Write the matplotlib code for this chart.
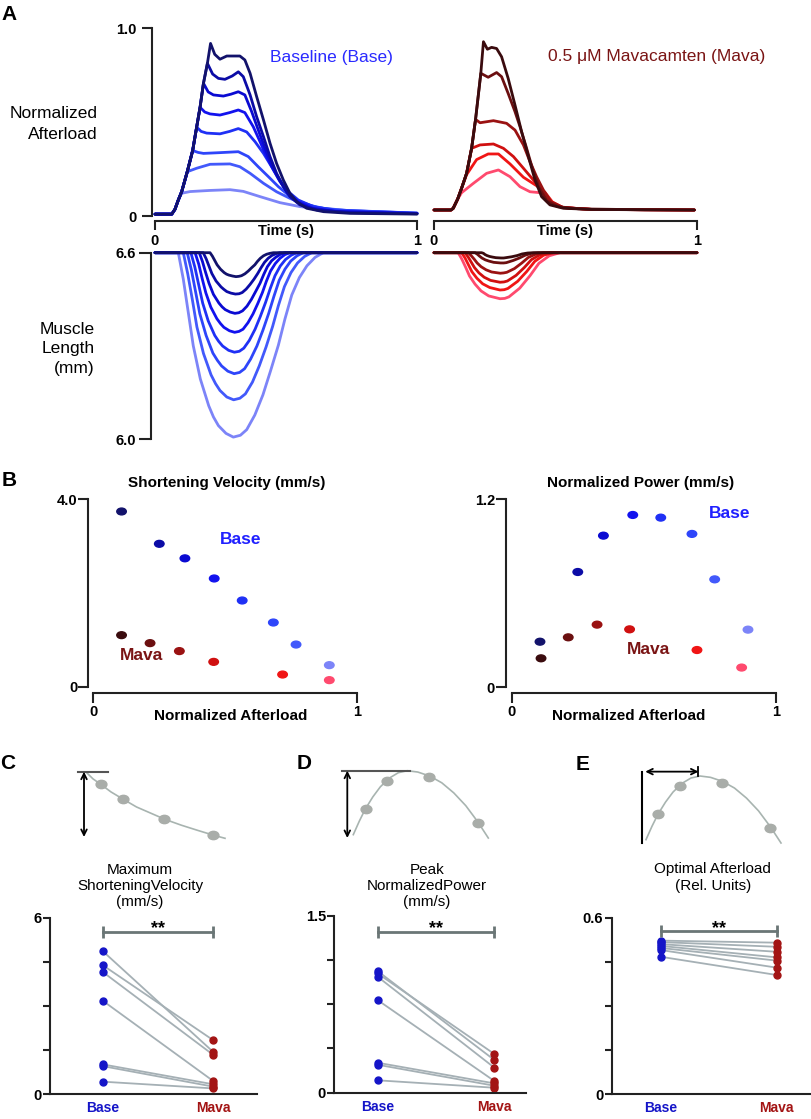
import matplotlib
matplotlib.use('Agg')
import matplotlib.pyplot as plt
from matplotlib.markers import MarkerStyle
from matplotlib.transforms import Affine2D

plt.rcParams['font.family'] = ['Liberation Sans', 'DejaVu Sans']

W, H = 812, 1119

# ---------------- Panel A: afterload traces (time in s, normalized afterload) ----------------
base_force_t = [
    [0, 0.064, 0.076, 0.089, 0.102, 0.124, 0.144, 0.159, 0.172, 0.185, 0.2, 0.212, 0.228, 0.248, 0.274, 0.324, 0.343, 0.363, 0.388, 0.414, 0.439, 0.464, 0.49, 0.515, 0.541, 0.579, 0.643, 0.744, 1.0],
    [0, 0.064, 0.076, 0.089, 0.102, 0.124, 0.144, 0.159, 0.172, 0.185, 0.2, 0.22, 0.242, 0.267, 0.295, 0.318, 0.337, 0.363, 0.388, 0.414, 0.439, 0.464, 0.49, 0.515, 0.553, 0.617, 0.744, 1.0],
    [0, 0.064, 0.076, 0.089, 0.102, 0.124, 0.144, 0.159, 0.172, 0.185, 0.203, 0.223, 0.261, 0.29, 0.318, 0.343, 0.369, 0.394, 0.42, 0.445, 0.471, 0.503, 0.541, 0.592, 0.693, 1.0],
    [0, 0.064, 0.076, 0.089, 0.102, 0.124, 0.144, 0.159, 0.172, 0.19, 0.21, 0.248, 0.285, 0.318, 0.343, 0.375, 0.401, 0.426, 0.452, 0.477, 0.509, 0.547, 0.604, 0.693, 1.0],
    [0, 0.064, 0.076, 0.089, 0.102, 0.124, 0.144, 0.159, 0.176, 0.197, 0.248, 0.285, 0.318, 0.35, 0.382, 0.414, 0.445, 0.477, 0.509, 0.547, 0.604, 0.693, 1.0],
    [0, 0.064, 0.076, 0.089, 0.102, 0.124, 0.144, 0.165, 0.185, 0.248, 0.318, 0.356, 0.394, 0.433, 0.471, 0.509, 0.553, 0.617, 0.693, 1.0],
    [0, 0.064, 0.076, 0.089, 0.102, 0.124, 0.159, 0.21, 0.286, 0.324, 0.363, 0.414, 0.464, 0.515, 0.566, 0.643, 0.744, 1.0],
    [0, 0.064, 0.076, 0.089, 0.102, 0.134, 0.21, 0.286, 0.337, 0.401, 0.477, 0.553, 0.643, 0.744, 1.0],
]
base_force_y = [
    [0.01, 0.01, 0.035, 0.085, 0.13, 0.24, 0.35, 0.473, 0.578, 0.706, 0.812, 0.918, 0.86, 0.834, 0.851, 0.851, 0.83, 0.759, 0.635, 0.511, 0.387, 0.28, 0.191, 0.121, 0.076, 0.041, 0.023, 0.014, 0.01],
    [0.01, 0.01, 0.035, 0.085, 0.13, 0.24, 0.35, 0.473, 0.578, 0.706, 0.812, 0.755, 0.732, 0.727, 0.745, 0.767, 0.741, 0.644, 0.528, 0.422, 0.316, 0.227, 0.156, 0.103, 0.059, 0.032, 0.018, 0.012],
    [0.01, 0.01, 0.035, 0.085, 0.13, 0.24, 0.35, 0.473, 0.578, 0.706, 0.66, 0.644, 0.638, 0.648, 0.661, 0.644, 0.555, 0.458, 0.36, 0.271, 0.2, 0.129, 0.076, 0.041, 0.023, 0.013],
    [0.01, 0.01, 0.035, 0.085, 0.13, 0.24, 0.35, 0.473, 0.578, 0.553, 0.543, 0.537, 0.55, 0.564, 0.55, 0.475, 0.395, 0.316, 0.245, 0.183, 0.121, 0.076, 0.041, 0.023, 0.013],
    [0.01, 0.01, 0.035, 0.085, 0.13, 0.24, 0.35, 0.473, 0.45, 0.441, 0.437, 0.45, 0.465, 0.447, 0.395, 0.333, 0.262, 0.191, 0.129, 0.085, 0.05, 0.028, 0.014],
    [0.01, 0.01, 0.035, 0.085, 0.13, 0.24, 0.348, 0.338, 0.333, 0.337, 0.342, 0.316, 0.262, 0.209, 0.156, 0.112, 0.076, 0.046, 0.032, 0.015],
    [0.01, 0.01, 0.035, 0.085, 0.13, 0.236, 0.254, 0.275, 0.277, 0.262, 0.227, 0.174, 0.129, 0.094, 0.064, 0.041, 0.028, 0.015],
    [0.01, 0.01, 0.035, 0.085, 0.121, 0.13, 0.136, 0.14, 0.131, 0.103, 0.071, 0.05, 0.036, 0.028, 0.016],
]
mava_force_t = [
    [0, 0.065, 0.073, 0.09, 0.105, 0.124, 0.143, 0.158, 0.178, 0.188, 0.203, 0.219, 0.238, 0.257, 0.282, 0.308, 0.333, 0.359, 0.384, 0.409, 0.441, 0.492, 0.6, 0.8, 0.99],
    [0, 0.065, 0.073, 0.09, 0.105, 0.124, 0.143, 0.158, 0.178, 0.206, 0.238, 0.257, 0.282, 0.308, 0.327, 0.35, 0.375, 0.4, 0.43, 0.47, 0.55, 0.8, 0.99],
    [0, 0.065, 0.073, 0.09, 0.105, 0.124, 0.143, 0.158, 0.175, 0.226, 0.276, 0.308, 0.34, 0.365, 0.39, 0.416, 0.445, 0.49, 0.6, 0.99],
    [0, 0.065, 0.073, 0.09, 0.105, 0.124, 0.143, 0.175, 0.226, 0.264, 0.302, 0.34, 0.378, 0.409, 0.445, 0.49, 0.6, 0.99],
    [0, 0.065, 0.073, 0.09, 0.105, 0.124, 0.162, 0.206, 0.245, 0.289, 0.34, 0.39, 0.422, 0.45, 0.49, 0.6, 0.99],
    [0, 0.065, 0.073, 0.09, 0.105, 0.15, 0.2, 0.245, 0.289, 0.327, 0.365, 0.403, 0.429, 0.454, 0.49, 0.6, 0.99],
]
mava_force_y = [
    [0.032, 0.032, 0.041, 0.09, 0.148, 0.227, 0.36, 0.514, 0.759, 0.927, 0.887, 0.897, 0.891, 0.847, 0.732, 0.59, 0.449, 0.316, 0.191, 0.103, 0.059, 0.041, 0.035, 0.033, 0.032],
    [0.032, 0.032, 0.041, 0.09, 0.148, 0.227, 0.36, 0.514, 0.759, 0.738, 0.763, 0.741, 0.652, 0.555, 0.475, 0.37, 0.25, 0.15, 0.08, 0.05, 0.038, 0.033, 0.032],
    [0.032, 0.032, 0.041, 0.09, 0.148, 0.227, 0.36, 0.514, 0.496, 0.507, 0.493, 0.457, 0.378, 0.289, 0.209, 0.138, 0.075, 0.045, 0.035, 0.032],
    [0.032, 0.032, 0.041, 0.09, 0.148, 0.227, 0.36, 0.378, 0.383, 0.36, 0.316, 0.254, 0.191, 0.138, 0.075, 0.045, 0.035, 0.032],
    [0.032, 0.032, 0.041, 0.09, 0.148, 0.22, 0.30, 0.33, 0.33, 0.277, 0.206, 0.161, 0.126, 0.075, 0.045, 0.035, 0.032],
    [0.032, 0.032, 0.041, 0.09, 0.124, 0.174, 0.227, 0.245, 0.209, 0.156, 0.129, 0.124, 0.094, 0.067, 0.045, 0.035, 0.032],
]

# ---------------- Panel A: muscle shortening from 6.6 mm rest length ----------------
rest_length = 6.6
base_len_t = [
    [0, 0.210, 0.219, 0.228, 0.237, 0.250, 0.264, 0.273, 0.282, 0.296, 0.309, 0.320, 0.330, 0.343, 0.356, 0.368, 0.381, 0.391, 0.402, 0.414, 0.426, 0.439, 0.452, 1.0],
    [0, 0.184, 0.195, 0.206, 0.217, 0.233, 0.252, 0.263, 0.274, 0.290, 0.307, 0.321, 0.333, 0.348, 0.363, 0.378, 0.392, 0.405, 0.418, 0.432, 0.446, 0.462, 0.477, 1.0],
    [0, 0.169, 0.181, 0.193, 0.206, 0.223, 0.244, 0.256, 0.268, 0.287, 0.305, 0.320, 0.334, 0.351, 0.368, 0.384, 0.401, 0.415, 0.429, 0.445, 0.462, 0.479, 0.496, 1.0],
    [0, 0.153, 0.167, 0.180, 0.194, 0.213, 0.236, 0.250, 0.263, 0.284, 0.304, 0.321, 0.336, 0.355, 0.374, 0.392, 0.410, 0.425, 0.441, 0.459, 0.477, 0.496, 0.515, 1.0],
    [0, 0.137, 0.152, 0.167, 0.182, 0.203, 0.228, 0.243, 0.258, 0.281, 0.303, 0.322, 0.339, 0.360, 0.382, 0.402, 0.422, 0.440, 0.458, 0.478, 0.498, 0.520, 0.541, 1.0],
    [0, 0.123, 0.139, 0.155, 0.171, 0.195, 0.221, 0.238, 0.254, 0.278, 0.302, 0.323, 0.342, 0.365, 0.389, 0.412, 0.434, 0.454, 0.474, 0.496, 0.518, 0.542, 0.566, 1.0],
    [0, 0.108, 0.125, 0.143, 0.160, 0.185, 0.214, 0.231, 0.248, 0.274, 0.300, 0.324, 0.345, 0.372, 0.398, 0.424, 0.449, 0.471, 0.494, 0.519, 0.544, 0.571, 0.598, 1.0],
    [0, 0.089, 0.108, 0.127, 0.146, 0.173, 0.205, 0.223, 0.242, 0.271, 0.299, 0.326, 0.350, 0.381, 0.412, 0.441, 0.471, 0.496, 0.522, 0.551, 0.580, 0.611, 0.642, 1.0],
]
base_short = [
    [0, 0, 0.011, 0.025, 0.039, 0.053, 0.064, 0.069, 0.072, 0.075, 0.077, 0.076, 0.074, 0.068, 0.059, 0.049, 0.039, 0.028, 0.018, 0.010, 0.005, 0.002, 0, 0],
    [0, 0, 0.019, 0.043, 0.067, 0.091, 0.110, 0.118, 0.125, 0.130, 0.133, 0.132, 0.128, 0.117, 0.102, 0.085, 0.067, 0.048, 0.031, 0.018, 0.009, 0.003, 0, 0],
    [0, 0, 0.028, 0.063, 0.098, 0.134, 0.162, 0.174, 0.183, 0.191, 0.195, 0.193, 0.187, 0.172, 0.150, 0.125, 0.098, 0.070, 0.045, 0.026, 0.014, 0.005, 0, 0],
    [0, 0, 0.037, 0.083, 0.129, 0.175, 0.212, 0.228, 0.240, 0.251, 0.256, 0.253, 0.246, 0.225, 0.197, 0.164, 0.128, 0.092, 0.059, 0.035, 0.018, 0.006, 0, 0],
    [0, 0, 0.046, 0.104, 0.162, 0.219, 0.266, 0.285, 0.300, 0.314, 0.320, 0.317, 0.307, 0.282, 0.246, 0.205, 0.160, 0.115, 0.074, 0.043, 0.022, 0.008, 0, 0],
    [0, 0, 0.056, 0.126, 0.196, 0.266, 0.323, 0.346, 0.364, 0.381, 0.389, 0.385, 0.373, 0.342, 0.300, 0.249, 0.195, 0.140, 0.089, 0.053, 0.027, 0.010, 0, 0],
    [0, 0, 0.068, 0.153, 0.239, 0.324, 0.393, 0.421, 0.443, 0.464, 0.473, 0.468, 0.454, 0.416, 0.364, 0.303, 0.237, 0.170, 0.109, 0.064, 0.033, 0.012, 0, 0],
    [0, 0, 0.085, 0.192, 0.299, 0.406, 0.492, 0.528, 0.556, 0.581, 0.593, 0.587, 0.569, 0.522, 0.457, 0.380, 0.297, 0.213, 0.136, 0.080, 0.042, 0.015, 0, 0],
]
mava_len_t = [
    [0, 0.181, 0.188, 0.194, 0.201, 0.211, 0.222, 0.235, 0.255, 0.265, 0.273, 0.296, 0.317, 0.335, 0.356, 0.378, 1.0],
    [0, 0.156, 0.165, 0.173, 0.182, 0.195, 0.209, 0.227, 0.253, 0.265, 0.275, 0.301, 0.325, 0.347, 0.371, 0.397, 1.0],
    [0, 0.131, 0.142, 0.153, 0.164, 0.179, 0.198, 0.219, 0.252, 0.265, 0.277, 0.306, 0.334, 0.359, 0.386, 0.416, 1.0],
    [0, 0.118, 0.130, 0.142, 0.154, 0.171, 0.191, 0.215, 0.251, 0.266, 0.279, 0.312, 0.343, 0.371, 0.402, 0.435, 1.0],
    [0, 0.105, 0.118, 0.131, 0.144, 0.163, 0.185, 0.212, 0.251, 0.267, 0.281, 0.318, 0.353, 0.383, 0.417, 0.454, 1.0],
    [0, 0.092, 0.106, 0.121, 0.135, 0.156, 0.179, 0.208, 0.251, 0.269, 0.285, 0.326, 0.365, 0.399, 0.438, 0.479, 1.0],
]
mava_short = [
    [0, 0, 0.002, 0.006, 0.009, 0.012, 0.014, 0.016, 0.017, 0.017, 0.016, 0.013, 0.009, 0.004, 0.001, 0, 0],
    [0, 0, 0.005, 0.011, 0.017, 0.023, 0.027, 0.031, 0.033, 0.033, 0.032, 0.025, 0.017, 0.008, 0.002, 0, 0],
    [0, 0, 0.010, 0.021, 0.033, 0.045, 0.055, 0.062, 0.066, 0.065, 0.063, 0.051, 0.033, 0.015, 0.005, 0, 0],
    [0, 0, 0.014, 0.031, 0.048, 0.065, 0.079, 0.089, 0.095, 0.094, 0.091, 0.073, 0.048, 0.022, 0.007, 0, 0],
    [0, 0, 0.017, 0.039, 0.061, 0.082, 0.100, 0.112, 0.120, 0.119, 0.115, 0.092, 0.060, 0.028, 0.008, 0, 0],
    [0, 0, 0.021, 0.048, 0.075, 0.101, 0.123, 0.139, 0.148, 0.147, 0.142, 0.114, 0.074, 0.034, 0.010, 0, 0],
]

# ---------------- Panel B ----------------
afterload_base = [0.107, 0.25, 0.347, 0.458, 0.564, 0.682, 0.768, 0.894]
velocity_base = [3.74, 3.05, 2.74, 2.31, 1.84, 1.37, 0.90, 0.46]
power_base = [0.291, 0.736, 0.968, 1.10, 1.083, 0.979, 0.689, 0.368]
afterload_mava_vel = [0.107, 0.215, 0.326, 0.456, 0.717, 0.894]
velocity_mava = [1.10, 0.93, 0.76, 0.53, 0.26, 0.14]
afterload_mava_pow = [0.111, 0.214, 0.323, 0.446, 0.701, 0.870]
power_mava = [0.185, 0.319, 0.40, 0.37, 0.238, 0.126]

# ---------------- Panels C-E (paired, one line per muscle) ----------------
groups = ['Base', 'Mava']
vmax_base = [4.87, 4.39, 4.16, 3.18, 1.01, 0.95, 0.42]
vmax_mava = [1.43, 1.83, 1.33, 0.44, 0.33, 0.25, 0.19]
ppeak_base = [1.031, 1.011, 0.983, 0.785, 0.254, 0.237, 0.105]
ppeak_mava = [0.277, 0.328, 0.212, 0.099, 0.079, 0.059, 0.042]
optload_base = [0.522, 0.517, 0.510, 0.504, 0.497, 0.490, 0.467]
optload_mava = [0.515, 0.501, 0.484, 0.465, 0.454, 0.430, 0.405]

# schematic insets (relative units)
sketch_vel_x = [0.02, 0.06, 0.11, 0.18, 0.26, 0.35, 0.45, 0.54, 0.65, 0.76, 0.86, 0.94]
sketch_vel_y = [0.98, 0.89, 0.81, 0.69, 0.58, 0.46, 0.36, 0.27, 0.18, 0.10, 0.03, -0.02]
sketch_vel_dots_x = [0.113, 0.258, 0.535, 0.862]
sketch_vel_dots_y = [0.81, 0.58, 0.27, 0.03]
sketch_pow_x = [0.04, 0.08, 0.12, 0.17, 0.22, 0.28, 0.34, 0.40, 0.47, 0.55, 0.63, 0.71, 0.79, 0.87, 0.94]
sketch_pow_y = [0.05, 0.25, 0.43, 0.61, 0.76, 0.89, 0.97, 1.0, 0.98, 0.92, 0.82, 0.67, 0.48, 0.24, 0.0]
sketch_pow_dots_x = [0.123, 0.267, 0.547, 0.869]
sketch_pow_dots_y = [0.43, 0.85, 0.90, 0.23]

blues = ['#12126b', '#0b0ba6', '#0a0ad2', '#1212ee', '#1f30f5', '#2e45fa', '#4259fb', '#7c84f8']
reds = ['#3a0b0e', '#6b0f10', '#9a1212', '#d01010', '#f01515', '#ff4a6e']
AX = '#222222'
PAIR_BLUE = '#1515c8'
PAIR_RED = '#a31414'

fig = plt.figure(figsize=(W / 100, H / 100), dpi=100)


def px_axes(left, top, right, bottom):
    ax = fig.add_axes([left / W, 1 - bottom / H, (right - left) / W, (bottom - top) / H])
    ax.patch.set_alpha(0)
    for s in ax.spines.values():
        s.set_linewidth(1.5)
        s.set_color(AX)
    ax.spines['top'].set_visible(False)
    ax.spines['right'].set_visible(False)
    ax.tick_params(width=1.5, color=AX, labelsize=10.5)
    return ax


def ftext(x, y, s, **kw):
    fig.text(x / W, 1 - y / H, s, **kw)


def trace(ax, t, y, c):
    ax.plot(t, y, color=c, lw=2, clip_on=False, solid_capstyle='round', solid_joinstyle='round')


bold = dict(fontweight='bold', fontsize=10.5)
oval = MarkerStyle('o', transform=Affine2D().scale(1.4, 1.0))

# ---- A: afterload, baseline
ax = px_axes(155, 28, 417, 216)
for t, y, c in reversed(list(zip(base_force_t, base_force_y, blues))):
    trace(ax, t, y, c)
ax.set_xlim(0, 1)
ax.set_ylim(0, 1)
ax.spines['left'].set_position(('outward', 2.2))
ax.spines['bottom'].set_position(('outward', 3.6))
ax.set_yticks([0, 1], ['0', '1.0'], **bold)
ax.set_xticks([0, 1], ['0', '1'], **bold)
ax.tick_params(axis='y', length=7, pad=4)
ax.tick_params(axis='x', length=6.5, pad=3)
ftext(286, 231, 'Time (s)', ha='center', va='center', **bold)

# ---- A: afterload, mavacamten
ax = px_axes(434, 28, 697, 216)
for t, y, c in reversed(list(zip(mava_force_t, mava_force_y, reds))):
    trace(ax, t, y, c)
ax.set_xlim(0, 1)
ax.set_ylim(0, 1)
ax.spines['left'].set_visible(False)
ax.spines['bottom'].set_position(('outward', 3.6))
ax.set_yticks([])
ax.set_xticks([0, 1], ['0', '1'], **bold)
ax.tick_params(axis='x', length=6.5, pad=3)
ftext(565.5, 231, 'Time (s)', ha='center', va='center', **bold)

# ---- A: muscle length
ax = px_axes(155, 252.7, 417, 439.3)
for t, d, c in reversed(list(zip(base_len_t, base_short, blues))):
    trace(ax, t, [rest_length - v for v in d], c)
ax.set_xlim(0, 1)
ax.set_ylim(6.0, 6.6)
ax.spines['bottom'].set_visible(False)
ax.spines['left'].set_position(('outward', 2.9))
ax.set_xticks([])
ax.set_yticks([6.0, 6.6], ['6.0', '6.6'], **bold)
ax.tick_params(axis='y', length=9, pad=2)

ax = px_axes(434, 252.7, 697, 439.3)
for t, d, c in reversed(list(zip(mava_len_t, mava_short, reds))):
    trace(ax, t, [rest_length - v for v in d], c)
ax.set_xlim(0, 1)
ax.set_ylim(6.0, 6.6)
ax.axis('off')

ftext(1, 14.5, 'A', ha='left', va='center', fontsize=15, fontweight='bold')
ftext(97.7, 124, 'Normalized\nAfterload', ha='right', va='center', fontsize=12.5, linespacing=1.45)
ftext(95, 349, 'Muscle\nLength\n(mm)', ha='right', va='center', fontsize=12.5, linespacing=1.38)
ftext(331.7, 57.5, 'Baseline (Base)', ha='center', va='center', fontsize=12.5, color='#2a2aff')
ftext(656.7, 57, '0.5 \u03bcM Mavacamten (Mava)', ha='center', va='center', fontsize=12.5, color='#7a1414')

# ---- B: shortening velocity
ax = px_axes(93.3, 499.3, 357.3, 686.7)
ax.scatter(afterload_base, velocity_base, c=blues, marker=oval, s=24, clip_on=False, zorder=3)
ax.scatter(afterload_mava_vel, velocity_mava, c=reds, marker=oval, s=24, clip_on=False, zorder=3)
ax.set_xlim(0, 1)
ax.set_ylim(0, 4)
ax.spines['left'].set_position(('outward', 3.6))
ax.spines['bottom'].set_position(('outward', 4.3))
ax.set_yticks([0, 4], ['0', '4.0'], **bold)
ax.set_xticks([0, 1], ['0', '1'], **bold)
ax.tick_params(axis='y', length=7, pad=1)
ax.tick_params(axis='x', length=7, pad=2)
ftext(2, 480, 'B', ha='left', va='center', fontsize=15, fontweight='bold')
ftext(227, 483, 'Shortening Velocity (mm/s)', ha='center', va='center', fontsize=11, fontweight='bold')
ftext(231, 716, 'Normalized Afterload', ha='center', va='center', fontsize=11, fontweight='bold')
ftext(240.5, 540, 'Base', ha='center', va='center', fontsize=12.5, fontweight='bold', color='#2020ff')
ftext(141.7, 656, 'Mava', ha='center', va='center', fontsize=12.5, fontweight='bold', color='#7a1414')

# ---- B: normalized power
ax = px_axes(511.7, 499.3, 776, 687.3)
ax.scatter(afterload_base, power_base, c=blues, marker=oval, s=24, clip_on=False, zorder=3)
ax.scatter(afterload_mava_pow, power_mava, c=reds, marker=oval, s=24, clip_on=False, zorder=3)
ax.set_xlim(0, 1)
ax.set_ylim(0, 1.2)
ax.spines['left'].set_position(('outward', 4.1))
ax.spines['bottom'].set_position(('outward', 3.9))
ax.set_yticks([0, 1.2], ['0', '1.2'], **bold)
ax.set_xticks([0, 1], ['0', '1'], **bold)
ax.tick_params(axis='y', length=7, pad=1)
ax.tick_params(axis='x', length=7, pad=2)
ftext(640.5, 483, 'Normalized Power (mm/s)', ha='center', va='center', fontsize=11, fontweight='bold')
ftext(629, 716, 'Normalized Afterload', ha='center', va='center', fontsize=11, fontweight='bold')
ftext(729.5, 513.5, 'Base', ha='center', va='center', fontsize=12.5, fontweight='bold', color='#2020ff')
ftext(649, 649, 'Mava', ha='center', va='center', fontsize=12.5, fontweight='bold', color='#7a1414')


# ---- C-E: paired plots
def paired(box, xlim, base, mava, ymax, ylabels, sig_y):
    ax = px_axes(*box)
    for b, m in zip(base, mava):
        ax.plot([0, 1], [b, m], color='#a5b0b5', lw=1.3, zorder=1)
    ax.plot([0] * len(base), base, 'o', color=PAIR_BLUE, ms=5, zorder=2, clip_on=False)
    ax.plot([1] * len(mava), mava, 'o', color=PAIR_RED, ms=5, zorder=2, clip_on=False)
    ax.plot([0, 1], [sig_y, sig_y], color='#6a7676', lw=2, marker='|', ms=8, mew=2)
    ax.annotate('**', xy=(0.5, sig_y), xytext=(0, 2), textcoords='offset points',
                ha='center', va='center', fontsize=13, fontweight='bold')
    ax.set_xlim(*xlim)
    ax.set_ylim(0, ymax)
    ax.set_yticks([ymax * k / 4 for k in range(5)], ylabels, **bold)
    ax.tick_params(axis='y', length=5, pad=1)
    ax.set_xticks([0, 1], groups, fontweight='bold', fontsize=10)
    ax.tick_params(axis='x', length=0, pad=5)
    lbls = ax.get_xticklabels()
    lbls[0].set_color(PAIR_BLUE)
    lbls[1].set_color(PAIR_RED)
    return ax


paired((50, 917.7, 256.7, 1094), (-0.474, 1.392), vmax_base, vmax_mava, 6, ['0', '', '', '', '6'], 5.52)
paired((334.3, 915.7, 526, 1092.7), (-0.371, 1.271), ppeak_base, ppeak_mava, 1.5, ['0', '', '', '', '1.5'], 1.364)
paired((611.7, 917.7, 812, 1094), (-0.423, 1.304), optload_base, optload_mava, 0.6, ['0', '', '', '', '0.6'], 0.555)

ftext(0, 763.5, 'C', ha='left', va='center', fontsize=15, fontweight='bold')
ftext(297, 763.5, 'D', ha='left', va='center', fontsize=15, fontweight='bold')
ftext(576, 765, 'E', ha='left', va='center', fontsize=15, fontweight='bold')
ftext(140, 886, 'Maximum\nShorteningVelocity\n(mm/s)', ha='center', va='center', fontsize=11, linespacing=1.2)
ftext(426.7, 886, 'Peak\nNormalizedPower\n(mm/s)', ha='center', va='center', fontsize=11, linespacing=1.2)
ftext(712.7, 877.5, 'Optimal Afterload\n(Rel. Units)', ha='center', va='center', fontsize=11, linespacing=1.2)

# ---- schematic insets
GRAY_DOT = '#a9ada9'
GRAY_LINE = '#a8b4b0'
arrow = dict(arrowstyle='<->', color='black', lw=1.3, mutation_scale=10, shrinkA=0, shrinkB=0)
dot = MarkerStyle('o', transform=Affine2D().scale(1.3, 1.0))

ax = fig.add_axes([84 / W, 1 - 837 / H, 150 / W, 65.3 / H])
ax.set_xlim(0, 1)
ax.set_ylim(0, 1)
ax.axis('off')
ax.plot(sketch_vel_x, sketch_vel_y, color=GRAY_LINE, lw=1.2, clip_on=False)
ax.plot(sketch_vel_dots_x, sketch_vel_dots_y, ls='none', marker=dot, ms=6, color=GRAY_DOT, clip_on=False)
ax.plot([-0.04, 0.16], [1, 1], color='#555555', lw=1.5, clip_on=False)
ax.annotate('', xy=(0, 0), xytext=(0, 1), arrowprops=arrow, annotation_clip=False)

ax = fig.add_axes([347.3 / W, 1 - 838 / H, 150 / W, 67.3 / H])
ax.set_xlim(0, 1)
ax.set_ylim(0, 1)
ax.axis('off')
ax.plot(sketch_pow_x, sketch_pow_y, color=GRAY_LINE, lw=1.2, clip_on=False)
ax.plot(sketch_pow_dots_x, sketch_pow_dots_y, ls='none', marker=dot, ms=6, color=GRAY_DOT, clip_on=False)
ax.plot([-0.037, 0.418], [1, 1], color='#555555', lw=1.5, clip_on=False)
ax.annotate('', xy=(0, 0), xytext=(0, 1), arrowprops=arrow, annotation_clip=False)

ax = fig.add_axes([640 / W, 1 - 843 / H, 150 / W, 67 / H])
ax.set_xlim(0, 1)
ax.set_ylim(0, 1)
ax.axis('off')
ax.plot(sketch_pow_x, sketch_pow_y, color=GRAY_LINE, lw=1.2, clip_on=False)
ax.plot(sketch_pow_dots_x, sketch_pow_dots_y, ls='none', marker=dot, ms=6, color=GRAY_DOT, clip_on=False)
ax.plot([0.015, 0.015], [-0.005, 1.065], color='black', lw=1.5, clip_on=False)
ax.plot([0.39, 0.39], [1.0, 1.13], color='black', lw=1.3, clip_on=False)
ax.annotate('', xy=(0.39, 1.065), xytext=(0.035, 1.065), arrowprops=arrow, annotation_clip=False)

fig.savefig('out.png', dpi=100)
